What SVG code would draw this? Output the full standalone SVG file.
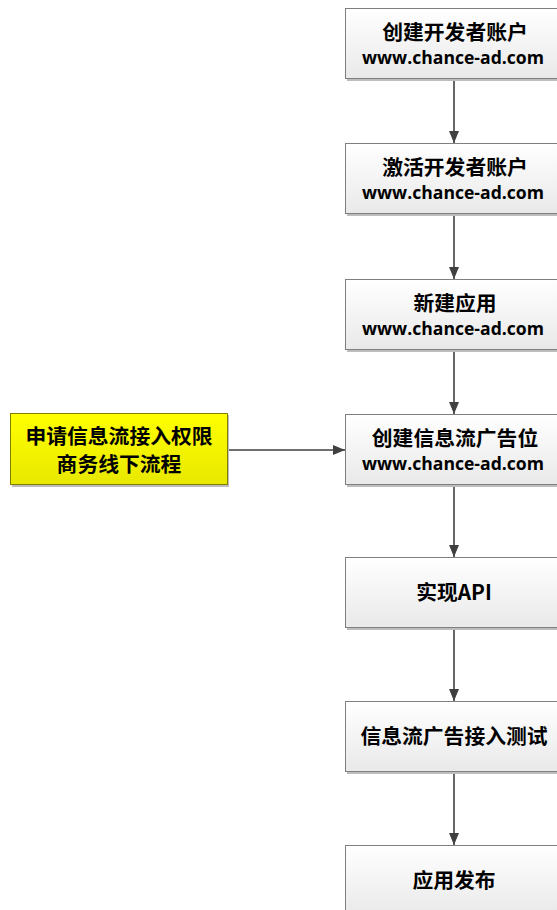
<svg xmlns="http://www.w3.org/2000/svg" width="557" height="910" viewBox="0 0 557 910">
<defs>
<linearGradient id="gw" x1="0" y1="0" x2="0" y2="1">
<stop offset="0" stop-color="#ffffff"/>
<stop offset="1" stop-color="#e9e9e9"/>
</linearGradient>
<linearGradient id="gy" x1="0" y1="0" x2="0" y2="1">
<stop offset="0" stop-color="#ffff00"/>
<stop offset="1" stop-color="#e8e800"/>
</linearGradient>
<marker id="ah" markerWidth="12" markerHeight="10" refX="12" refY="5" orient="auto" markerUnits="userSpaceOnUse">
<path d="M0,0 L12,5 L0,10 Z" fill="#404040"/>
</marker>
</defs>
<style>
.sh{fill:#bdbdbd}
.bx{fill:url(#gw);stroke:#7f7f7f;stroke-width:1}
.yb{fill:url(#gy);stroke:#7f7f00;stroke-width:1}
.cn{font-family:"Noto Sans CJK SC","Noto Sans",sans-serif;font-weight:bold;font-size:20.8px;fill:#000;text-anchor:middle}
.en{font-family:"Open Sans","Liberation Sans",sans-serif;font-weight:bold;font-size:17px;fill:#000;text-anchor:middle}
.cl{stroke:#404040;stroke-width:1.6;fill:none}
</style>
<rect width="557" height="910" fill="#ffffff"/>
<g id="connectors">
<line class="cl" x1="454" y1="79" x2="454" y2="143" marker-end="url(#ah)"/>
<line class="cl" x1="454" y1="214" x2="454" y2="279" marker-end="url(#ah)"/>
<line class="cl" x1="454" y1="350" x2="454" y2="414" marker-end="url(#ah)"/>
<line class="cl" x1="454" y1="485" x2="454" y2="557" marker-end="url(#ah)"/>
<line class="cl" x1="454" y1="628" x2="454" y2="701" marker-end="url(#ah)"/>
<line class="cl" x1="454" y1="772" x2="454" y2="845" marker-end="url(#ah)"/>
<line class="cl" x1="228" y1="450" x2="345" y2="450" marker-end="url(#ah)"/>
</g>
<g id="n1">
<rect class="sh" x="347" y="10" width="220" height="71"/>
<rect class="bx" x="345.5" y="8.5" width="220" height="70"/>
<text class="cn" x="455" y="40">创建开发者账户</text>
<text class="en" x="453" y="64" textLength="182" lengthAdjust="spacingAndGlyphs">www.chance-ad.com</text>
</g>
<g id="n2">
<rect class="sh" x="347" y="145" width="220" height="71"/>
<rect class="bx" x="345.5" y="143.5" width="220" height="70"/>
<text class="cn" x="455" y="175">激活开发者账户</text>
<text class="en" x="453" y="199" textLength="182" lengthAdjust="spacingAndGlyphs">www.chance-ad.com</text>
</g>
<g id="n3">
<rect class="sh" x="347" y="281" width="220" height="71"/>
<rect class="bx" x="345.5" y="279.5" width="220" height="70"/>
<text class="cn" x="455" y="311">新建应用</text>
<text class="en" x="453" y="335" textLength="182" lengthAdjust="spacingAndGlyphs">www.chance-ad.com</text>
</g>
<g id="n4">
<rect class="sh" x="347" y="416" width="220" height="71"/>
<rect class="bx" x="345.5" y="414.5" width="220" height="70"/>
<text class="cn" x="455" y="446">创建信息流广告位</text>
<text class="en" x="453" y="470" textLength="182" lengthAdjust="spacingAndGlyphs">www.chance-ad.com</text>
</g>
<g id="n5">
<rect class="sh" x="347" y="559" width="220" height="71"/>
<rect class="bx" x="345.5" y="557.5" width="220" height="70"/>
<text class="cn" x="454" y="600">实现API</text>
</g>
<g id="n6">
<rect class="sh" x="347" y="703" width="220" height="71"/>
<rect class="bx" x="345.5" y="701.5" width="220" height="70"/>
<text class="cn" x="454" y="744">信息流广告接入测试</text>
</g>
<g id="n7">
<rect class="sh" x="347" y="847" width="220" height="71"/>
<rect class="bx" x="345.5" y="845.5" width="220" height="70"/>
<text class="cn" x="454" y="888">应用发布</text>
</g>
<g id="y1">
<rect class="sh" x="12" y="415" width="217" height="72"/>
<rect class="yb" x="10.5" y="413.5" width="217" height="71"/>
<text class="cn" x="119" y="444">申请信息流接入权限</text>
<text class="cn" x="119" y="472">商务线下流程</text>
</g>
</svg>
